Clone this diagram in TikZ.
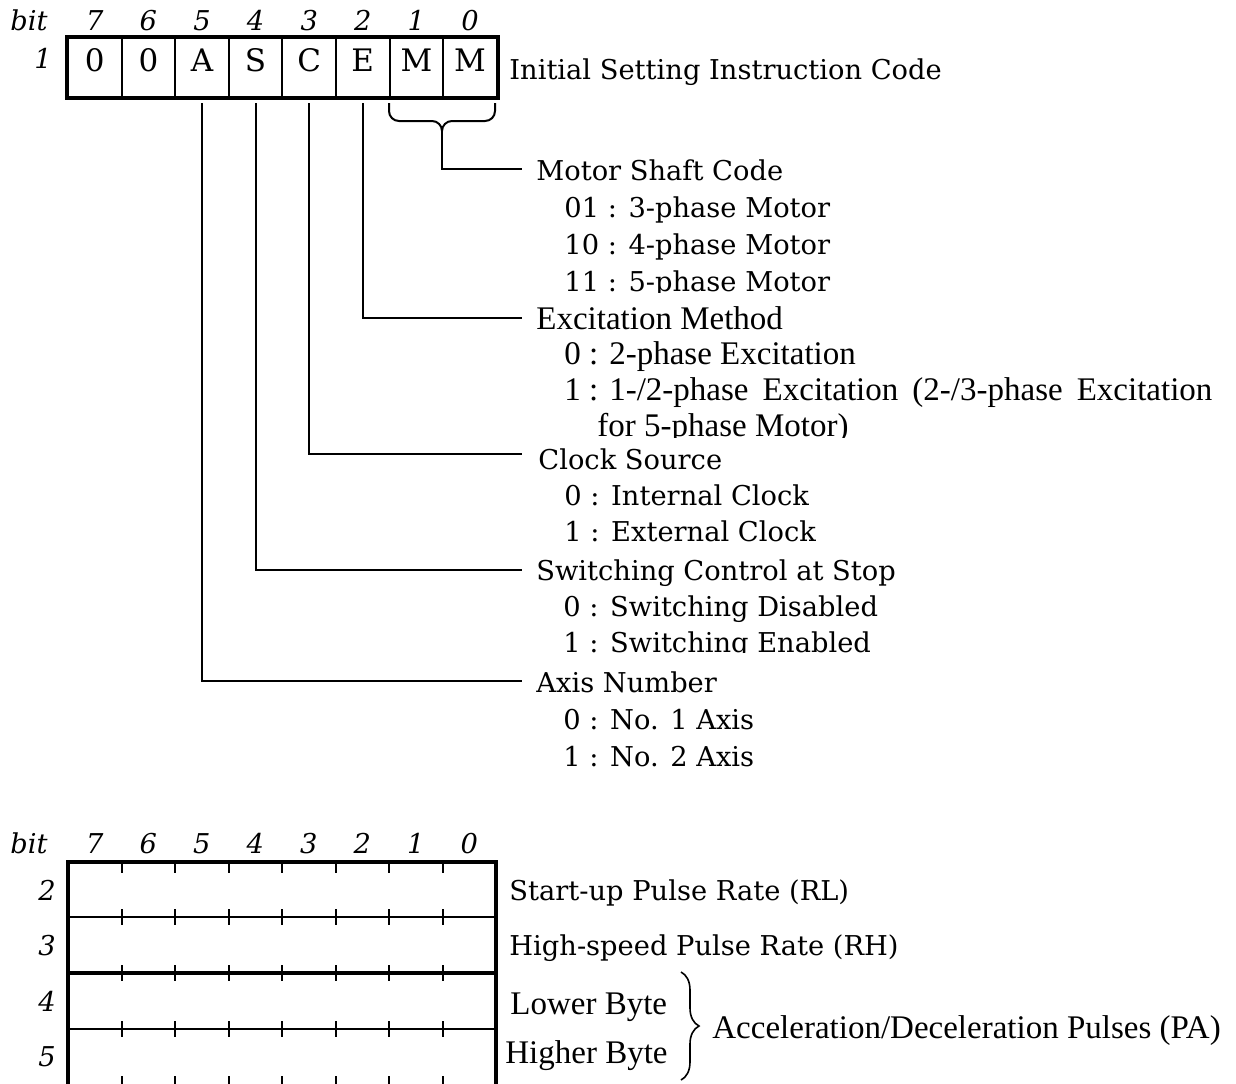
\documentclass[tikz,border=0pt]{standalone}
\usepackage{fontspec}
\setmainfont{DejaVu Serif}
\newfontfamily\timesf{Liberation Serif}
\usetikzlibrary{decorations.pathreplacing}
\tikzset{
  lbl/.style={font=\fontsize{13.65}{16}\selectfont, inner sep=0pt, anchor=base west},
  tlbl/.style={font=\timesf\fontsize{16.5}{19}\selectfont, inner sep=0pt, anchor=base west},
  bitn/.style={font=\fontsize{13.65}{16}\selectfont\itshape, inner sep=0pt, anchor=base},
  celltxt/.style={font=\fontsize{15.5}{18}\selectfont, inner sep=0pt, anchor=base},
  cell/.style={draw, line width=1pt, minimum width=26.8pt, minimum height=29.5pt, inner sep=0pt},
  thickline/.style={line width=2pt},
  thinline/.style={line width=1pt},
  conn/.style={line width=1pt},
}
\begin{document}
\begin{tikzpicture}[x=0.5pt,y=-0.5pt]
\useasboundingbox (0,0) rectangle (1236,1083);

% ---------- top register ----------
\node[bitn, anchor=base west] (bitA) at (10,30) {bit};
\foreach \b [count=\i from 0] in {7,6,5,4,3,2,1,0}
  \node[bitn] (ba\i) at ({68+53.6*(\i+0.5)},30) {\b};
\node[bitn] (row1) at (43,68) {1};
\foreach \t [count=\i from 0] in {0,0,A,S,C,E,M,M}{
  \node[cell] (c\i) at ({68+53.6*(\i+0.5)},67.5) {};
  \node[celltxt] (t\i) at ({68+53.6*(\i+0.5)},71) {\t};
}
\draw[thickline] (c0.north west) rectangle (c7.south east);
\node[lbl] (init) at (509,79) {Initial Setting Instruction Code};

% brace under MM
\draw[conn] (389,103) -- (389,111) to[out=-90,in=180] (399,121) -- (432,121)
  to[out=0,in=90] (442,131) coordinate (mmtip);
\draw[conn] (495,103) -- (495,111) to[out=-90,in=0] (485,121) -- (452,121)
  to[out=180,in=90] (442,131);

% connector end points
\coordinate (mEnd) at (522,169);
\coordinate (eEnd) at (522,318);
\coordinate (cEnd) at (522,454);
\coordinate (sEnd) at (522,570);
\coordinate (aEnd) at (522,681);

\draw[conn] (mmtip) |- (mEnd);
\draw[conn] ([yshift=-2.5pt]c5.south) |- (eEnd);
\draw[conn] ([yshift=-2.5pt]c4.south) |- (cEnd);
\draw[conn] ([yshift=-2.5pt]c3.south) |- (sEnd);
\draw[conn] ([yshift=-2.5pt]c2.south) |- (aEnd);

% Motor shaft code
\node[lbl] (mh) at (536,180) {Motor Shaft Code};
\node[lbl] (m1) at (564,217) {01 : 3-phase Motor};
\node[lbl] (m2) at (564,254) {10 : 4-phase Motor};
\begin{scope}
  \clip (500,240) rectangle (1236,292);
  \node[lbl] (m3) at (564,291) {11 : 5-phase Motor};
\end{scope}

% Excitation method
\node[tlbl] (eh) at (536,329) {Excitation Method};
\node[tlbl] (e1) at (564,364) {0 : 2-phase Excitation};
\node[tlbl] (e2) at (564,400) {\hbox to 324pt{1 : 1-/2-phase\hfill Excitation\hfill (2-/3-phase\hfill Excitation}};
\begin{scope}
  \clip (500,410) rectangle (1236,437);
  \node[tlbl] (e3) at (597,436) {for 5-phase Motor)};
\end{scope}

% Clock source
\node[lbl] (ch) at (538,469) {Clock Source};
\node[lbl] (c1l) at (564,505) {0 : Internal Clock};
\begin{scope}
  \clip (500,515) rectangle (1236,541);
  \node[lbl] (c2l) at (564,541) {1 : External Clock};
\end{scope}

% Switching control
\node[lbl] (sh) at (536,580) {Switching Control at Stop};
\node[lbl] (s1) at (563,616) {0 : Switching Disabled};
\begin{scope}
  \clip (500,626) rectangle (1236,652);
  \node[lbl] (s2) at (563,652) {1 : Switching Enabled};
\end{scope}

% Axis number
\node[lbl] (ah) at (536,692) {Axis Number};
\node[lbl] (a1) at (563,729) {0 : No. 1 Axis};
\begin{scope}
  \clip (500,740) rectangle (1236,766);
  \node[lbl] (a2) at (563,766) {1 : No. 2 Axis};
\end{scope}

% ---------- bottom register ----------
\node[bitn, anchor=base west] (bitB) at (10,853) {bit};
\foreach \b [count=\i from 0] in {7,6,5,4,3,2,1,0}
  \node[bitn] (bb\i) at ({68+53.5*(\i+0.5)},853) {\b};
\node[bitn] (row2) at (47,900) {2};
\node[bitn] (row3) at (47,955) {3};
\node[bitn] (row4) at (47,1011) {4};
\node[bitn] (row5) at (47,1066) {5};

\draw[thickline] (68,1090) -- (68,862) -- (496,862) -- (496,1090);
\draw[thinline] (68,917) -- (496,917);
\draw[thickline] (68,973) -- (496,973);
\draw[thinline] (68,1029) -- (496,1029);
\foreach \k in {1,...,7}{
  \draw[thinline] ({68+53.5*\k},862) -- ++(0,11);
  \draw[thinline] ({68+53.5*\k},909) -- ++(0,16);
  \draw[thinline] ({68+53.5*\k},965) -- ++(0,16);
  \draw[thinline] ({68+53.5*\k},1021) -- ++(0,16);
  \draw[thinline] ({68+53.5*\k},1076) -- ++(0,10);
}

\node[lbl] (rl) at (509,900) {Start-up Pulse Rate (RL)};
\node[lbl] (rh) at (509,955) {High-speed Pulse Rate (RH)};
\node[tlbl] (lb) at (510,1014) {Lower Byte};
\node[tlbl] (hb) at (505,1063) {Higher Byte};
\draw[line width=0.8pt, decorate, decoration={brace, amplitude=9pt}]
  (681,972) -- (681,1080);
\node[tlbl] (pa) at (712,1038) {Acceleration/Deceleration Pulses (PA)};
\end{tikzpicture}
\end{document}
